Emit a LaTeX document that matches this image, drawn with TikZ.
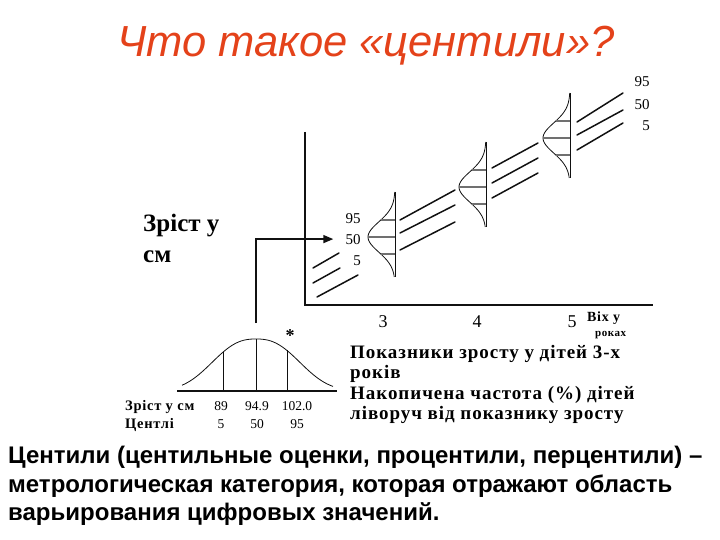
\documentclass[tikz,border=0pt]{standalone}
\usepackage{fontspec}
\setmainfont{Liberation Serif}
\newfontfamily\headfont{Liberation Sans}
\newfontfamily\notefont{Liberation Sans}
\newfontfamily\boxfont[LetterSpace=5]{Liberation Serif}
\usetikzlibrary{arrows.meta,positioning}
\definecolor{ink}{HTML}{111111}
\definecolor{titlered}{HTML}{E4421A}
\colorlet{pc}{ink!60}
\tikzset{axis/.style={line width=1.6pt,draw=ink},
  trend/.style={line width=1.5pt,draw=ink,line cap=round},
  dcurve/.style={line width=.8pt,draw=ink,smooth},
  pct/.style={line width=1.3pt,draw=pc},
  num/.style={inner sep=0pt,anchor=base,font=\fontsize{15}{15}\selectfont},
  blbl/.style={inner sep=0pt,anchor=base west,font=\boxfont\bfseries\fontsize{19}{19}\selectfont}}

\begin{document}
\begin{tikzpicture}[x=1pt,y=-1pt]
\useasboundingbox (0,0) rectangle (720,540);
\node[inner sep=0pt,anchor=base,text=titlered,font=\headfont\itshape\fontsize{43.5}{43.5}\selectfont] (title) at (366,57) {Что такое «центили»?};

\draw[axis] (305,132) -- (305,305) -- (653,305);
\foreach \vx/\my in {395/237,486/187,570/138}{
 \draw[dcurve] (\vx,\my-45) -- (\vx,\my+40);
 \draw[dcurve,domain=-45:40,samples=50] plot ({\vx-27*exp(-(\x*\x)/450)},{\my+\x});
 \foreach \d in {-17,0,17}
  \draw[pct] ({\vx-27*exp(-(\d*\d)/450)},\my+\d) -- (\vx,\my+\d);}
\foreach \ax/\ay/\bx/\by in {313/268/339/253,313/283/340/268,317/297/358/275,
  400/220/455/190,400/233/455/205,400/250/455/222,
  492/168/538/143,492/183/538/158,492/198/538/173,
  577/122/623/93,577/135/623/110,577/150/623/123}
 \draw[trend] (\ax,\ay) -- (\bx,\by);

\node[num] (l95) at (353,223) {95};
\node[num] (l50) at (353,244) {50};
\node[num] (l5) at (357,265) {5};
\node[num] (r95) at (642,87) {95};
\node[num] (r50) at (642,110) {50};
\node[num] (r5) at (646,131) {5};

\foreach \t/\x in {3/383,4/477,5/572}
 \node[num,font=\fontsize{18}{18}\selectfont] (age\t) at (\x,327) {\t};
\node[blbl,font=\boxfont\bfseries\fontsize{14}{14}\selectfont] (vik) at (587,321) {Віх у};
\node[blbl,font=\boxfont\bfseries\fontsize{11}{11}\selectfont] (rok) at (595,336) {роках};

\node[blbl,font=\bfseries\fontsize{25}{25}\selectfont] (zr) at (143,232) {Зріст у};
\node[blbl,font=\bfseries\fontsize{25}{25}\selectfont] (sm) at (143,262) {см};

\draw[axis,line width=1.2pt] (177,391) -- (337,391);
\draw[dcurve,domain=182:333,samples=80] plot (\x,{391-52*exp(-(abs(\x-256)/54)^2.5)});
\foreach \x in {223,256,287}
 \draw[dcurve] (\x,391) -- (\x,{391-52*exp(-(abs(\x-256)/54)^2.5)});
\coordinate (peak) at (256,323);
\draw[axis,-{Triangle[length=10pt,width=8pt]}] (peak) |- ([xshift=-12pt]l50.west);
\node[inner sep=0pt,anchor=base,font=\bfseries\fontsize{18}{18}\selectfont] (star) at (290,341) {*};

\node[blbl,font=\boxfont\bfseries\fontsize{14.5}{14.5}\selectfont] (hcm) at (125,410) {Зріст у см};
\node[blbl,font=\boxfont\bfseries\fontsize{14.5}{14.5}\selectfont] (cnt) at (125,428) {Центлі};
\foreach \v/\p/\x in {89/5/221,94.9/50/257,102.0/95/297}{
 \node[num,font=\fontsize{13.5}{13.5}\selectfont] (h\p) at (\x,410) {\v};
 \node[num,font=\fontsize{13.5}{13.5}\selectfont] (p\p) at (\x,428) {\p};}

\node[blbl] (t1) at (350,358) {Показники зросту у дітей 3-х};
\node[blbl] (t2) at (350,378) {років};
\node[blbl] (t3) at (350,399) {Накопичена частота (\%) дітей};
\node[blbl] (t4) at (350,419) {ліворуч від показнику зросту};

\foreach \i/\y/\s in {1/463/{Центили (центильные оценки, процентили, перцентили) –},
  2/492/{метрологическая категория, которая отражают область},
  3/520/{варьирования цифровых значений.}}
 \node[inner sep=0pt,anchor=base west,font=\notefont\bfseries\fontsize{24}{24}\selectfont] (n\i) at (8,\y) {\s};
\end{tikzpicture}
\end{document}
